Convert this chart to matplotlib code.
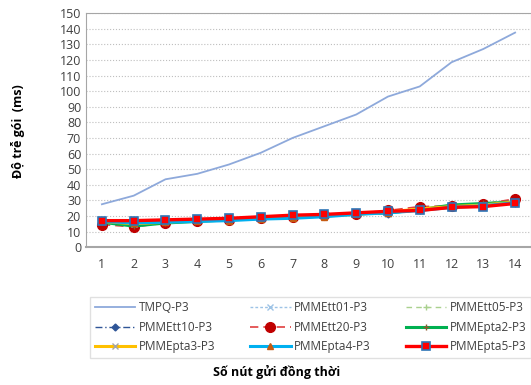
import numpy as np
import matplotlib.pyplot as plt

# Du lieu
nodes = list(range(1, 15))
tmpq = [27.5, 33, 43.5, 47, 53, 60.5, 70, 77.5, 85, 96.5, 103, 118.5, 127, 137.5]
tt01 = [16, 15, 16, 17, 17.5, 18.5, 19, 20, 21, 21.5, 23.5, 25.5, 26.5, 28.5]
tt05 = [15.5, 14.5, 16, 17, 17.5, 18.5, 19, 20, 21, 22, 24.5, 26, 27, 29]
tt10 = [16, 14, 16, 17, 17.5, 18, 19, 20, 21, 21.5, 24, 25.5, 26.5, 28]
tt20 = [14.5, 13, 15.5, 17, 17.5, 18.5, 19.5, 20.5, 21.5, 23.5, 26, 26.5, 27.5, 31]
pta2 = [16, 13.5, 15.5, 16.5, 17.5, 18.5, 19, 20, 21.5, 22, 24, 27, 28, 29]
pta3 = [16.5, 15, 16, 17, 17.5, 18.5, 19.5, 20, 21, 22.5, 24.5, 26, 27, 29]
pta4 = [16.5, 15.5, 16, 16.5, 17, 18, 18.5, 19.5, 21, 22, 23.5, 25.5, 26.5, 28.5]
pta5 = [17, 17, 17.5, 18, 18.5, 19.5, 20.5, 21, 22, 23, 23.5, 25.5, 26, 28]

plt.rcParams['font.family'] = ['Open Sans', 'DejaVu Sans']

fig = plt.figure(figsize=(5.31, 3.85), dpi=100)
ax = fig.add_axes([0.162, 0.358, 0.838, 0.608])

ax.plot(nodes, tmpq, color='#8EA9DB', lw=1.3, label='TMPQ-P3')
ax.plot(nodes, tt01, color='#9DC3E6', lw=1, ls=(0, (2, 1.5)), marker='x', ms=4,
        label='PMMEtt01-P3')
ax.plot(nodes, tt05, color='#A9D18E', lw=1, ls=(0, (4, 3)), marker='+', ms=5,
        label='PMMEtt05-P3')
ax.plot(nodes, tt10, color='#2F5597', lw=1, ls=(0, (5, 2, 1, 2)), marker='D', ms=3.5,
        label='PMMEtt10-P3')
ax.plot(nodes, tt20, color='#E04040', lw=1.2, ls=(0, (5, 3)), marker='o', ms=7,
        mfc='#C00000', mec='#C00000', label='PMMEtt20-P3')
ax.plot(nodes, pta2, color='#00B050', lw=2.2, marker='+', ms=5, mec='#8B5A2B',
        label='PMMEpta2-P3')
ax.plot(nodes, pta3, color='#FFC000', lw=2.2, marker='x', ms=4, mec='#A6A6A6',
        label='PMMEpta3-P3')
ax.plot(nodes, pta4, color='#00B0F0', lw=2.2, marker='^', ms=5, mfc='#C55A11',
        mec='#C55A11', label='PMMEpta4-P3')
ax.plot(nodes, pta5, color='#FF0000', lw=2.4, marker='s', ms=6, mfc='#FF0000',
        mec='#2E75B6', mew=1.2, label='PMMEpta5-P3')

ax.set_xlim(0.5, 14.5)
ax.set_ylim(0, 150)
ax.set_xticks(nodes)
ax.set_yticks(range(0, 151, 10))
ax.tick_params(length=0, labelsize=9, colors='#404040')
ax.tick_params(axis='x', pad=8)
ax.grid(axis='y', ls=':', color='#BFBFBF', lw=0.8)
for s in ax.spines.values():
    s.set_color('#A6A6A6')
ax.spines['bottom'].set_linewidth(1.5)

fig.text(0.034, 0.66, 'Độ trễ gói  (ms)', rotation=90, ha='center', va='center',
         fontsize=9, fontweight='bold')
fig.text(0.52, 0.033, 'Số nút gửi đồng thời', ha='center', va='center',
         fontsize=9, fontweight='bold')

# legend theo hang (3 cot)
h, l = ax.get_legend_handles_labels()
order = [0, 3, 6, 1, 4, 7, 2, 5, 8]
leg = fig.legend([h[i] for i in order], [l[i] for i in order],
                 loc='lower left', bbox_to_anchor=(0.17, 0.07, 0.83, 0.175),
                 mode='expand', ncol=3, fontsize=8.5, frameon=True, fancybox=False,
                 handlelength=3.4, handletextpad=0.3, borderaxespad=0,
                 labelspacing=0.55, columnspacing=1.0)
leg.get_frame().set_edgecolor('#D9D9D9')
leg.get_frame().set_linewidth(1)
for t in leg.get_texts():
    t.set_color('#404040')

fig.savefig('out.png', dpi=100)
